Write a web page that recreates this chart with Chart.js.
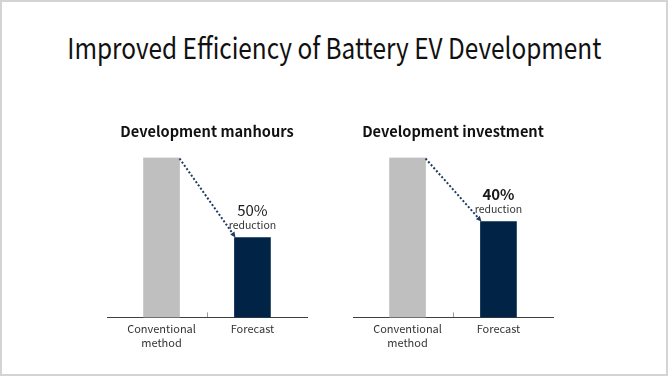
<!DOCTYPE html>
<html>
<head>
<meta charset="utf-8">
<script src="https://cdn.jsdelivr.net/npm/chart.js@4/dist/chart.umd.min.js"></script>
<style>
    body { margin: 0; width: 668px; height: 376px; position: relative; background: #fff; overflow: hidden; }
    #frame { position: absolute; left: 0; top: 0; width: 668px; height: 376px; box-sizing: border-box; border: 2px solid #d4d4d4; }
    #mainTitle { position: absolute; left: 0; top: 28px; width: 668px; text-align: center; font: 29px/36px "Noto Sans CJK KR", "Noto Sans", sans-serif; color: #111; transform: scaleX(0.84); transform-origin: 336px 0; }
    canvas { position: absolute; top: 115px; }
    #graficoManhours { left: 87px; }
    #graficoInvestment { left: 333px; }
</style>
</head>
<body>
<div id="frame"></div>
<div id="mainTitle">Improved Efficiency of Battery EV Development</div>
<canvas id="graficoManhours" width="240" height="260"></canvas>
<canvas id="graficoInvestment" width="240" height="260"></canvas>
<script>
// dados dos graficos
const categorias = [['Conventional', 'method'], ['Forecast']];
const valoresManhours = [100, 50];
const valoresInvestment = [100, 60];
const titulos = ['Development manhours', 'Development investment'];
const reducoes = ['50%', '40%'];
const cores = ['#bfbfbf', '#012446'];

Chart.defaults.font.family = '"Noto Sans CJK KR", "Noto Sans", sans-serif';

// seta pontilhada + texto de reducao
const arrowPlugin = {
    id: 'reductionArrow',
    afterDatasetsDraw(chart, args, opts) {
        const bars = chart.getDatasetMeta(0).data;
        const from = bars[0];
        const to = bars[1];
        const x1 = from.x + from.width / 2;
        const y1 = from.y + 1;
        const x2 = to.x - to.width / 2 + 1;
        const y2 = to.y;
        const ang = Math.atan2(y2 - y1, x2 - x1);
        const head = 6;
        const ctx = chart.ctx;

        ctx.save();
        ctx.strokeStyle = '#1d3a63';
        ctx.fillStyle = '#1d3a63';
        ctx.lineWidth = 2;
        ctx.setLineDash([2, 2]);
        ctx.beginPath();
        ctx.moveTo(x1, y1);
        ctx.lineTo(x2 - head * Math.cos(ang), y2 - head * Math.sin(ang));
        ctx.stroke();
        ctx.setLineDash([]);
        ctx.beginPath();
        ctx.moveTo(x2, y2);
        ctx.lineTo(x2 - head * Math.cos(ang - 0.45), y2 - head * Math.sin(ang - 0.45));
        ctx.lineTo(x2 - head * Math.cos(ang + 0.45), y2 - head * Math.sin(ang + 0.45));
        ctx.closePath();
        ctx.fill();

        ctx.textAlign = 'center';
        ctx.textBaseline = 'alphabetic';
        ctx.fillStyle = '#1a1a1a';
        ctx.font = (opts.bold ? 'bold ' : '') + '15px "Noto Sans CJK KR"';
        ctx.fillText(opts.texto, to.x, to.y - 21);
        ctx.fillStyle = '#333';
        ctx.font = '10.5px "Noto Sans CJK KR"';
        ctx.fillText('reduction', to.x, to.y - 8);
        ctx.restore();
    }
};

function criarGrafico(canvasId, titulo, valores, reducao, negrito) {
    const ctx = document.getElementById(canvasId).getContext('2d');
    return new Chart(ctx, {
        type: 'bar',
        data: {
            datasets: [{
                data: valores.map((v, i) => ({ x: i + 1, y: v })),
                backgroundColor: cores,
                barThickness: 36
            }]
        },
        options: {
            responsive: false,
            animation: false,
            layout: { padding: { left: 20, right: 20, top: 0, bottom: 16 } },
            plugins: {
                legend: { display: false },
                tooltip: { enabled: false },
                title: {
                    display: true,
                    text: titulo,
                    color: '#111',
                    font: { size: 14.6, weight: 'bold' },
                    padding: { top: 7.5, bottom: 17.5 }
                },
                reductionArrow: { texto: reducao, bold: negrito }
            },
            scales: {
                x: {
                    type: 'linear',
                    offset: false,
                    min: 0.4,
                    max: 2.6,
                    afterBuildTicks: axis => {
                        axis.ticks = [1, 1.5, 2].map(v => ({ value: v }));
                    },
                    ticks: {
                        autoSkip: false,
                        maxRotation: 0,
                        padding: 9,
                        color: '#333',
                        font: { size: 11, lineHeight: 1.3 },
                        callback: function(value) {
                            if (value === 1) return categorias[0];
                            if (value === 2) return categorias[1];
                            return '';
                        }
                    },
                    grid: {
                        offset: false,
                        drawOnChartArea: false,
                        tickLength: -5,
                        color: c => (c.tick && c.tick.value === 1.5) ? '#9a9a9a' : 'rgba(0,0,0,0)'
                    },
                    border: { color: '#404040', width: 1 }
                },
                y: { display: false, min: 0, max: 100 }
            }
        },
        plugins: [arrowPlugin]
    });
}

criarGrafico('graficoManhours', titulos[0], valoresManhours, reducoes[0], false);
criarGrafico('graficoInvestment', titulos[1], valoresInvestment, reducoes[1], true);
</script>
</body>
</html>
